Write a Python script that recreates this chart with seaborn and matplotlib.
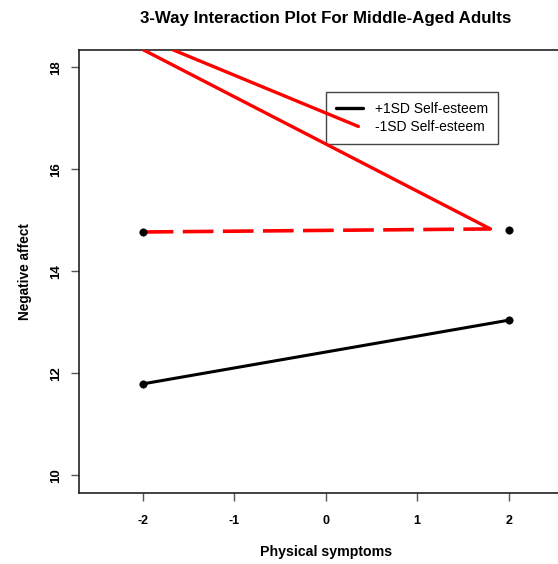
import numpy as np
import pandas as pd
import matplotlib
matplotlib.use('Agg')
import matplotlib.pyplot as plt
from matplotlib.lines import Line2D
import seaborn as sns

# values
symptoms = [-2, 2]
high_se = [11.79, 13.04]            # +1SD self-esteem (black)
low_se_dash_x = [-2, 1.8]
low_se_dash_y = [14.77, 14.83]      # -1SD self-esteem, dashed red
red_a_x = [-2, 1.8]
red_a_y = [18.35, 14.83]
red_b_x = [-1.665, 0.357]
red_b_y = [18.34, 16.84]
dot_x = [-2, 2, -2, 2]
dot_y = [11.79, 13.04, 14.77, 14.81]
legend_labels = ['+1SD Self-esteem', '-1SD Self-esteem']

sns.set_style('ticks')
plt.rcParams['font.family'] = ['Liberation Sans', 'DejaVu Sans']
plt.rcParams['text.color'] = 'black'
plt.rcParams['axes.labelcolor'] = 'black'
plt.rcParams['xtick.labelcolor'] = 'black'
plt.rcParams['ytick.labelcolor'] = 'black'

fig = plt.figure(figsize=(5.58, 5.64), dpi=100)
fig.patch.set_facecolor('#FFFFFF')
# plot box runs past the right edge of the figure, like the cropped original
ax = fig.add_axes([79 / 558, 71 / 564, (572.8 - 79) / 558, 443 / 564])

sns.lineplot(x=symptoms, y=high_se, ax=ax, color='black', linewidth=2.2,
             estimator=None, sort=False)
sns.lineplot(x=low_se_dash_x, y=low_se_dash_y, ax=ax, color='#FF0000',
             linewidth=2.6, estimator=None, sort=False)
ax.lines[-1].set_dashes([8.5, 2.6])
sns.lineplot(x=red_a_x, y=red_a_y, ax=ax, color='#FF0000', linewidth=2.4,
             estimator=None, sort=False)
sns.lineplot(x=red_b_x, y=red_b_y, ax=ax, color='#FF0000', linewidth=2.4,
             estimator=None, sort=False)
for ln in ax.lines:
    ln.set_zorder(3)
sns.scatterplot(x=dot_x, y=dot_y, ax=ax, color='black', s=28,
                edgecolor='black', linewidth=0.5, zorder=5)

ax.set_xlim(-2.696, 2.7)
ax.set_ylim(9.65, 18.34)
ax.set_xticks([-2, -1, 0, 1, 2])
ax.set_yticks([10, 12, 14, 16, 18])
ax.set_xticklabels(['-2', '-1', '0', '1', '2'], fontweight='bold', fontsize=9)
ax.set_yticklabels(['10', '12', '14', '16', '18'], fontweight='bold',
                   fontsize=9.5, rotation=90, va='center')
ax.tick_params(axis='x', length=6, width=1, color='#555555', pad=10)
ax.tick_params(axis='y', length=6, width=1, color='#555555', pad=6)

for side in ['left', 'bottom', 'top', 'right']:
    ax.spines[side].set_visible(True)
    ax.spines[side].set_color('#222222')
    ax.spines[side].set_linewidth(1.2)

ax.set_xlabel('Physical symptoms', fontweight='bold', fontsize=10.2, labelpad=13)
ax.set_ylabel('Negative affect', fontweight='bold', fontsize=9.8, labelpad=13)

handles = [Line2D([], [], color='black', linewidth=2.4),
           Line2D([], [], color='none', linewidth=2.4)]
leg = ax.legend(handles, legend_labels, loc='upper left',
                bbox_to_anchor=(0.4996, 0.906), borderaxespad=0,
                fontsize=10, fancybox=False, framealpha=1,
                edgecolor='#444444', handlelength=2.0, handletextpad=0.85,
                labelspacing=0.3, borderpad=0.72)
leg.get_frame().set_linewidth(1.0)
leg.set_zorder(2)  # red line is drawn over the legend box in the original

fig.text(325.5 / 558, 1 - 18 / 564,
         '3-Way Interaction Plot For Middle-Aged Adults',
         ha='center', va='center', fontweight='bold', fontsize=12.2)

plt.savefig('out.png', dpi=100, facecolor=fig.get_facecolor())
